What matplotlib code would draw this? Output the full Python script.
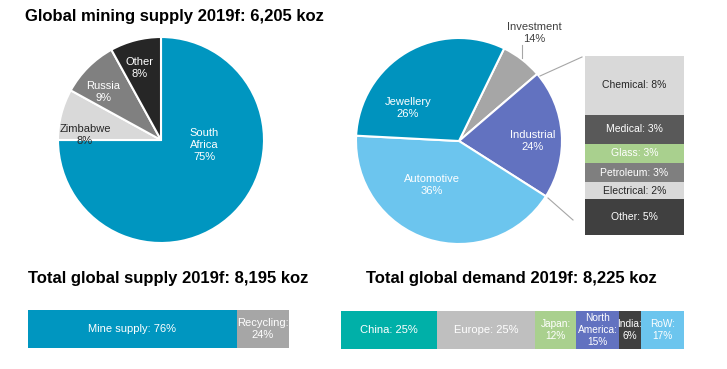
import matplotlib.pyplot as plt

plt.rcParams['font.family'] = ['Liberation Sans', 'DejaVu Sans']

W, H = 727, 369

# left pie: mining supply by country
mine_names = ["South\nAfrica", "Zimbabwe", "Russia", "Other"]
mine_pct = [75, 8, 9, 8]
mine_colors = ["#0096c0", "#d9d9d9", "#808080", "#262626"]
mine_text = ["white", "#262626", "white", "white"]

# right pie: demand by use (slice sizes as drawn, labels as printed)
use_names = ["Investment", "Industrial", "Automotive", "Jewellery"]
use_size = [6.5, 20.3, 41.8, 31.4]
use_labels = ["14%", "24%", "36%", "26%"]
use_colors = ["#a6a6a6", "#6272c0", "#6cc5ee", "#0093be"]

# industrial breakout
ind_names = ["Chemical", "Medical", "Glass", "Petroleum", "Electrical", "Other"]
ind_labels = ["8%", "3%", "3%", "3%", "2%", "5%"]
ind_size = [59, 29, 19, 19, 17, 36]
ind_colors = ["#d9d9d9", "#595959", "#a9d08e", "#7f7f7f", "#d9d9d9", "#404040"]
ind_text = ["#262626", "white", "white", "white", "#262626", "white"]

# supply bar
sup_names = ["Mine supply: 76%", "Recycling:\n24%"]
sup_size = [209, 52]
sup_colors = ["#0096c0", "#a6a6a6"]

# demand bar
dem_names = ["China: 25%", "Europe: 25%", "Japan:\n12%", "North\nAmerica:\n15%", "India:\n6%", "RoW:\n17%"]
dem_size = [96, 98, 41, 43, 22, 43]
dem_colors = ["#00b0a8", "#bfbfbf", "#a9d08e", "#6272c0", "#404040", "#6cc5ee"]


def px_axes(fig, x0, y0, x1, y1):
    return fig.add_axes([x0 / W, 1 - y1 / H, (x1 - x0) / W, (y1 - y0) / H])


fig = plt.figure(figsize=(W / 100, H / 100), dpi=100)

# left pie
ax1 = px_axes(fig, 58, 37, 264, 243)
ax1.pie(mine_pct, colors=mine_colors, startangle=90, counterclock=False,
        wedgeprops=dict(edgecolor="white", linewidth=1.5))
ax1.set_xlim(-1, 1)
ax1.set_ylim(-1, 1)
ax1.axis("off")

# right pie
ax2 = px_axes(fig, 356, 38, 562, 244)
ax2.pie(use_size, colors=use_colors, startangle=64, counterclock=False,
        wedgeprops=dict(edgecolor="white", linewidth=1.5))
ax2.set_xlim(-1, 1)
ax2.set_ylim(-1, 1)
ax2.axis("off")

# industrial breakout box
ax3 = px_axes(fig, 585, 56, 684, 235)
bottom = 0
for name, lab, s, col, tc in zip(ind_names, ind_labels, ind_size, ind_colors, ind_text):
    ax3.bar(0, s, bottom=bottom, width=1, color=col)
    ax3.text(0, bottom + s / 2, f"{name}: {lab}", ha="center", va="center",
             fontsize=7.5, color=tc)
    bottom += s
ax3.set_xlim(-0.5, 0.5)
ax3.set_ylim(sum(ind_size), 0)
ax3.axis("off")

# supply bar
ax4 = px_axes(fig, 28, 310, 289, 348)
left = 0
for name, s, col in zip(sup_names, sup_size, sup_colors):
    ax4.barh(0, s, left=left, height=1, color=col)
    ax4.text(left + s / 2, 0, name, ha="center", va="center", fontsize=8,
             color="white", linespacing=1.2)
    left += s
ax4.set_xlim(0, sum(sup_size))
ax4.set_ylim(-0.5, 0.5)
ax4.axis("off")

# demand bar
ax5 = px_axes(fig, 341, 311, 684, 349)
left = 0
for name, s, col in zip(dem_names, dem_size, dem_colors):
    ax5.barh(0, s, left=left, height=1, color=col)
    fs = 8 if "\n" not in name else 7.3
    ax5.text(left + s / 2, 0, name, ha="center", va="center", fontsize=fs,
             color="white", linespacing=1.2)
    left += s
ax5.set_xlim(0, sum(dem_size))
ax5.set_ylim(-0.5, 0.5)
ax5.axis("off")

# overlay for titles, pie labels and leader lines (on top)
ov = px_axes(fig, 0, 0, W, H)
ov.set_xlim(0, W)
ov.set_ylim(H, 0)
ov.axis("off")
ov.set_zorder(10)

title_kw = dict(fontsize=12, fontweight="bold", color="black", va="center")
ov.text(25, 17, "Global mining supply 2019f: 6,205 koz", ha="left", **title_kw)
ov.text(28, 279, "Total global supply 2019f: 8,195 koz", ha="left", **title_kw)
ov.text(366, 279, "Total global demand 2019f: 8,225 koz", ha="left", **title_kw)

mine_pos = [(204, 145), (85, 135), (103, 92), (140, 68)]
for name, p, c, (x, y) in zip(mine_names, mine_pct, mine_text, mine_pos):
    ov.text(x, y, f"{name}\n{p}%", ha="center", va="center", fontsize=8,
            color=c, linespacing=1.2)

use_pos = [(534, 33), (533, 141), (432, 185), (408, 108)]
use_txt = ["#404040", "white", "white", "white"]
for name, lab, c, (x, y) in zip(use_names, use_labels, use_txt, use_pos):
    ov.text(x, y, f"{name}\n{lab}", ha="center", va="center", fontsize=8,
            color=c, linespacing=1.2)

line_kw = dict(color="#a6a6a6", linewidth=0.8)
ov.plot([522, 522], [45, 58], **line_kw)
ov.plot([540, 582], [76, 57], **line_kw)
ov.plot([548, 573], [198, 220], **line_kw)

fig.savefig("out.png", dpi=100)
